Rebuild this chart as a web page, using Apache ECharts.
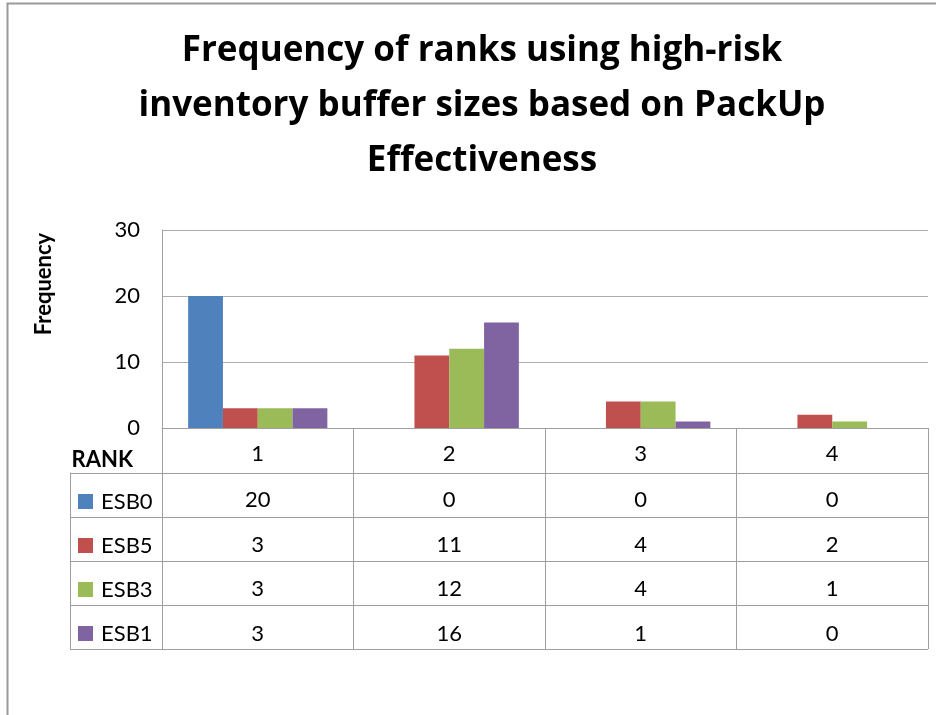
<!DOCTYPE html>
<html>
<head>
<meta charset="utf-8">
<title>Frequency of ranks</title>
<script src="https://cdn.jsdelivr.net/npm/echarts@6/dist/echarts.min.js"></script>
<style>
  html, body { margin: 0; padding: 0; background: #ffffff; }
  #chart { width: 936px; height: 715px; }
</style>
</head>
<body>
<div id="chart"></div>
<script>
// Rank categories and the frequency of each buffer size per rank
const categories = ['1', '2', '3', '4'];
const seriesNames = ['ESB0', 'ESB5', 'ESB3', 'ESB1'];
const esb0 = [20, 0, 0, 0];
const esb5 = [3, 11, 4, 2];
const esb3 = [3, 12, 4, 1];
const esb1 = [3, 16, 1, 0];
const yMin = 0, yMax = 30, yStep = 10;

const seriesValues = [esb0, esb5, esb3, esb1];
const colors = ['#4F81BD', '#C0504D', '#9BBB59', '#8064A2'];
const FONT = 'Lato, "Open Sans", sans-serif';
const TITLE_FONT = '"Open Sans", Lato, sans-serif';
const LINE = '#9f9f9f';

// rich styles for the legend keys in the data table
const keyRich = { t: { fontSize: 22, fontFamily: FONT, color: '#000', padding: [0, 0, 0, 8] } };
colors.forEach((c, i) => {
  keyRich['c' + i] = { width: 15, height: 15, backgroundColor: c };
});

const chart = echarts.init(document.getElementById('chart'), null, { renderer: 'canvas' });

chart.setOption({
  animation: false,
  backgroundColor: '#ffffff',
  textStyle: { fontFamily: FONT },
  title: {
    text: 'Frequency of ranks using high-risk\ninventory buffer sizes based on PackUp\nEffectiveness',
    left: 477,
    top: 19,
    textAlign: 'center',
    textStyle: { fontSize: 35, fontWeight: 'bold', color: '#000', lineHeight: 55, fontFamily: TITLE_FONT }
  },
  graphic: [{
    type: 'rect',
    shape: { x: 7.5, y: 3.5, width: 1200, height: 1200 },
    style: { fill: 'none', stroke: '#9a9a9a', lineWidth: 2 },
    silent: true
  }],
  grid: [
    { left: 162, right: 8, top: 230, height: 198 },
    { left: 70, right: 8, top: 473, height: 176 }
  ],
  xAxis: [{
    gridIndex: 0,
    type: 'category',
    data: categories,
    name: 'RANK',
    nameLocation: 'start',
    nameGap: 29,
    nameMoveOverlap: false,
    nameTextStyle: {
      fontSize: 22, fontWeight: 'bold', color: '#000', fontFamily: FONT,
      verticalAlign: 'top', lineHeight: 64
    },
    axisLine: { lineStyle: { color: LINE, width: 1 } },
    axisTick: { show: true, length: 221, lineStyle: { color: LINE, width: 1 } },
    axisLabel: {
      interval: 0,
      margin: 2,
      color: '#000',
      formatter: (value, idx) => ['{h|' + value + '}']
        .concat(seriesValues.map(arr => '{v|' + arr[idx] + '}')).join('\n'),
      rich: {
        h: { fontSize: 22, fontFamily: FONT, color: '#000', lineHeight: 48 },
        v: { fontSize: 22, fontFamily: FONT, color: '#000', lineHeight: 44.5 }
      }
    },
    splitLine: { show: false }
  }, {
    gridIndex: 1,
    type: 'value',
    min: 0,
    max: 1,
    show: false
  }],
  yAxis: [{
    gridIndex: 0,
    type: 'value',
    min: yMin,
    max: yMax,
    interval: yStep,
    name: 'Frequency',
    nameLocation: 'middle',
    nameGap: 107,
    nameTextStyle: { fontSize: 22, fontWeight: 'bold', color: '#000', fontFamily: FONT, padding: [0, 0, 0, 90] },
    axisLine: { show: true, lineStyle: { color: LINE, width: 1 } },
    axisTick: { show: false },
    axisLabel: { fontSize: 22, color: '#000', margin: 22, fontFamily: FONT, padding: [6, 0, 0, 0] },
    splitLine: { show: true, lineStyle: { color: '#acacac', width: 1 } }
  }, {
    gridIndex: 1,
    type: 'category',
    data: seriesNames,
    inverse: true,
    axisLine: { show: true, lineStyle: { color: LINE, width: 1 } },
    axisTick: { show: false },
    axisLabel: {
      inside: true,
      margin: 8,
      padding: [13, 0, 0, 0],
      formatter: (value, idx) => '{c' + idx + '|}{t|' + value + '}',
      rich: keyRich
    },
    splitLine: { show: true, lineStyle: { color: LINE, width: 1 } }
  }],
  series: seriesNames.map((name, i) => ({
    name: name,
    type: 'bar',
    xAxisIndex: 0,
    yAxisIndex: 0,
    data: seriesValues[i],
    barGap: '0%',
    barCategoryGap: '27.3%',
    itemStyle: { color: colors[i] }
  }))
});
</script>
</body>
</html>
